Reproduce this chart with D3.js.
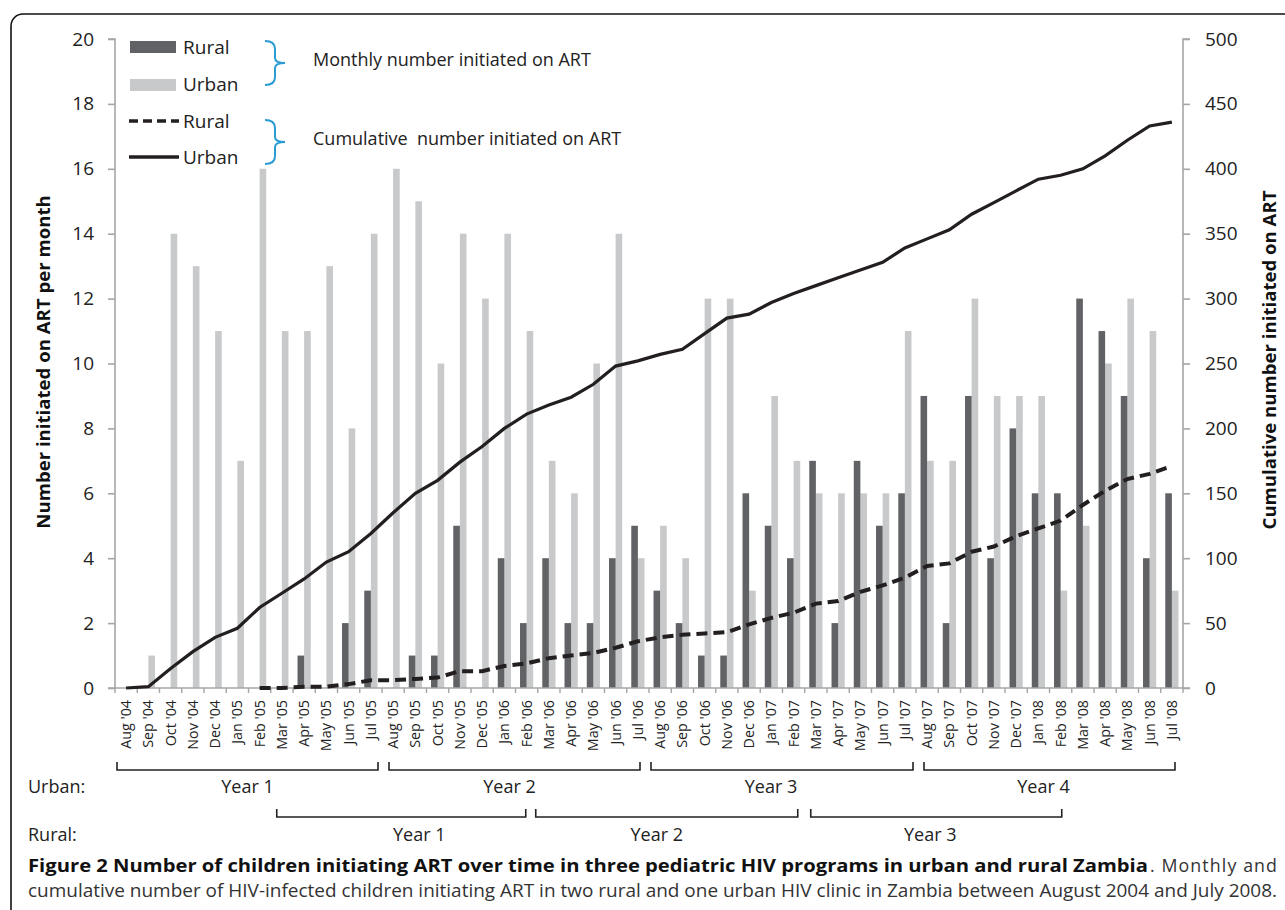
<!DOCTYPE html>
<html><head><meta charset="utf-8">
<script src="https://cdn.jsdelivr.net/npm/d3@7"></script>
<style>body{margin:0;background:#fff}svg{display:block}text{font-family:"Open Sans",sans-serif}</style>
</head><body><svg id="c" width="1285" height="910"></svg>
<script>
const months = ["Aug '04","Sep '04","Oct '04","Nov '04","Dec '04","Jan '05","Feb '05","Mar '05","Apr '05","May '05","Jun '05","Jul '05",
"Aug '05","Sep '05","Oct '05","Nov '05","Dec '05","Jan '06","Feb '06","Mar '06","Apr '06","May '06","Jun '06","Jul '06",
"Aug '06","Sep '06","Oct '06","Nov '06","Dec '06","Jan '07","Feb '07","Mar '07","Apr '07","May '07","Jun '07","Jul '07",
"Aug '07","Sep '07","Oct '07","Nov '07","Dec '07","Jan '08","Feb '08","Mar '08","Apr '08","May '08","Jun '08","Jul '08"];
const urbanMonthly = [0,1,14,13,11,7,16,11,11,13,8,14, 16,15,10,14,12,14,11,7,6,10,14,4, 5,4,12,12,3,9,7,6,6,6,6,11, 7,7,12,9,9,9,3,5,10,12,11,3];
const ruralMonthly = [null,null,null,null,null,null,0,0,1,0,2,3, 0,1,1,5,0,4,2,4,2,2,4,5, 3,2,1,1,6,5,4,7,2,7,5,6, 9,2,9,4,8,6,6,12,11,9,4,6];
const urbanCumulative = [0,1,15,28,39,46,62,73,84,97,105,119, 135,150,160,174,186,200,211,218,224,234,248,252, 257,261,273,285,288,297,304,310,316,322,328,339, 346,353,365,374,383,392,395,400,410,422,433,436];
const ruralCumulative = [null,null,null,null,null,null,0,0,1,1,3,6, 6,7,8,13,13,17,19,23,25,27,31,36, 39,41,42,43,49,54,58,65,67,74,79,85, 94,96,105,109,117,123,129,141,152,161,165,171];
const leftTicks = [0,2,4,6,8,10,12,14,16,18,20];
const rightTicks = [0,50,100,150,200,250,300,350,400,450,500];
const urbanYears = [{label:"Year 1",from:"Aug '04",to:"Jul '05"},{label:"Year 2",from:"Aug '05",to:"Jul '06"},{label:"Year 3",from:"Aug '06",to:"Jul '07"},{label:"Year 4",from:"Aug '07",to:"Jul '08"}];
const ruralYears = [{label:"Year 1",from:"Mar '05",to:"Feb '06"},{label:"Year 2",from:"Mar '06",to:"Feb '07"},{label:"Year 3",from:"Mar '07",to:"Feb '08"}];

const svg = d3.select("#c");
const L = 115, R = 1183, T = 39, B = 688;
const x = d3.scaleBand().domain(months).range([L, R]).padding(0);
const yL = d3.scaleLinear().domain([0,20]).range([B,T]);
const yR = d3.scaleLinear().domain([0,500]).range([B,T]);
const axisCol = "#a6a6a6", darkBar = "#616265", lightBar = "#c8c9cb", lineCol = "#231f20";

// border
svg.append("rect").attr("x",11).attr("y",14).attr("width",1300).attr("height",950).attr("rx",12)
  .attr("fill","none").attr("stroke","#111").attr("stroke-width",1.6);

// bars
const bw = 6.6;
const cx = m => x(m) + x.bandwidth()/2;
svg.append("g").selectAll("rect").data(months.map((m,i)=>({m,v:urbanMonthly[i]}))).join("rect")
  .attr("x",d=>cx(d.m)).attr("width",bw).attr("y",d=>yL(d.v)).attr("height",d=>B-yL(d.v)).attr("fill",lightBar);
svg.append("g").selectAll("rect").data(months.map((m,i)=>({m,v:ruralMonthly[i]})).filter(d=>d.v!==null)).join("rect")
  .attr("x",d=>cx(d.m)-bw).attr("width",bw).attr("y",d=>yL(d.v)).attr("height",d=>B-yL(d.v)).attr("fill",darkBar);

// axes
const gl = svg.append("g").attr("transform",`translate(${L},0)`).call(d3.axisLeft(yL).tickValues(leftTicks).tickSize(7).tickPadding(14));
const gr = svg.append("g").attr("transform",`translate(${R},0)`).call(d3.axisRight(yR).tickValues(rightTicks).tickSize(7).tickPadding(15));
[gl,gr].forEach(g=>{g.selectAll("path,line").attr("stroke",axisCol).attr("stroke-width",1.6);
  g.select(".domain").attr("d", g===gl ? `M-7,${T}H0V${B}H-7` : `M7,${T}H0V${B}H7`);
  g.selectAll("text").attr("font-size",19).attr("fill","#222").attr("font-family","Open Sans");});
const gx = svg.append("g").attr("transform",`translate(0,${B})`);
gx.append("line").attr("x1",L).attr("x2",R).attr("stroke",axisCol).attr("stroke-width",1.6);
gx.selectAll("line.t").data(d3.range(months.length+1)).join("line").attr("class","t")
  .attr("x1",i=>L+i*x.bandwidth()).attr("x2",i=>L+i*x.bandwidth()).attr("y1",0).attr("y2",5).attr("stroke",axisCol).attr("stroke-width",1.4);
gx.selectAll("text").data(months).join("text")
  .attr("transform",m=>`translate(${cx(m)+5},12) rotate(-90)`).attr("text-anchor","end")
  .attr("font-size",14.3).attr("fill","#222").text(m=>m);

// lines
const lineGen = arr => d3.line().defined(d=>d.v!==null).x(d=>cx(d.m)).y(d=>yR(d.v))(months.map((m,i)=>({m,v:arr[i]})));
svg.append("path").attr("d",lineGen(ruralCumulative)).attr("fill","none").attr("stroke",lineCol).attr("stroke-width",4).attr("stroke-dasharray","11,6");
svg.append("path").attr("d",lineGen(urbanCumulative)).attr("fill","none").attr("stroke",lineCol).attr("stroke-width",3.2);

// axis titles
svg.append("text").attr("transform","translate(50,362) rotate(-90)").attr("text-anchor","middle")
  .attr("font-size",18.6).attr("font-weight","bold").attr("fill","#111").text("Number initiated on ART per month");
svg.append("text").attr("transform","translate(1276,360) rotate(-90)").attr("text-anchor","middle")
  .attr("font-size",18.6).attr("font-weight","bold").attr("fill","#111").text("Cumulative number initiated on ART");

// legend
const lg = svg.append("g");
lg.append("rect").attr("x",130).attr("y",41).attr("width",46).attr("height",12).attr("fill",darkBar);
lg.append("rect").attr("x",130).attr("y",79).attr("width",46).attr("height",12).attr("fill",lightBar);
lg.append("line").attr("x1",129).attr("x2",179).attr("y1",121).attr("y2",121).attr("stroke",lineCol).attr("stroke-width",3.5).attr("stroke-dasharray","9,5");
lg.append("line").attr("x1",129).attr("x2",179).attr("y1",157).attr("y2",157).attr("stroke",lineCol).attr("stroke-width",3.5);
[["Rural",54],["Urban",91],["Rural",128],["Urban",164]].forEach(([t,y])=>
  lg.append("text").attr("x",183).attr("y",y).attr("font-size",19).attr("fill","#222").text(t));
const brace = (y0,y1) => { const m=(y0+y1)/2; return `M265,${y0} Q275,${y0} 275,${y0+8} L275,${m-5} Q275,${m} 285,${m} Q275,${m} 275,${m+5} L275,${y1-8} Q275,${y1} 265,${y1}`; };
lg.append("path").attr("d",brace(41,85)).attr("fill","none").attr("stroke","#2b9bd3").attr("stroke-width",2);
lg.append("path").attr("d",brace(120,164)).attr("fill","none").attr("stroke","#2b9bd3").attr("stroke-width",2);
lg.append("text").attr("x",313).attr("y",66).attr("font-size",18).attr("fill","#222").text("Monthly number initiated on ART");
lg.append("text").attr("x",313).attr("y",145).attr("font-size",18).attr("fill","#222").style("white-space","pre").text("Cumulative  number initiated on ART");

// year brackets (hand-drawn annotation: small per-bracket nudges)
const bracket = (arr, yLine, yLab, nudges) => {
  arr.forEach((d,i)=>{
    const [a,b,lx] = nudges[i];
    const x0 = x(d.from)+a, x1 = x(d.to)+x.bandwidth()+b;
    svg.append("path").attr("d",`M${x0},${yLine-8}V${yLine}H${x1}V${yLine-8}`).attr("fill","none").attr("stroke","#222").attr("stroke-width",1.6);
    svg.append("text").attr("x",(x0+x1)/2+lx).attr("y",yLab).attr("text-anchor","middle").attr("font-size",18).attr("fill","#222").text(d.label);
  });
};
bracket(urbanYears, 770, 793, [[2,-4,0],[7,-9,-5],[2,-3,-11],[8,-8,-6]]);
bracket(ruralYears, 817, 841, [[6,-12,18],[-2,-7,-10],[6,-10,-6]]);
svg.append("text").attr("x",28).attr("y",793).attr("font-size",18).attr("fill","#222").text("Urban:");
svg.append("text").attr("x",28).attr("y",841).attr("font-size",18).attr("fill","#222").text("Rural:");

// caption
svg.append("text").attr("x",28).attr("y",872).attr("font-size",17.8).attr("font-weight","bold").attr("fill","#111")
  .attr("textLength",1120).attr("lengthAdjust","spacingAndGlyphs")
  .text("Figure 2 Number of children initiating ART over time in three pediatric HIV programs in urban and rural Zambia");
svg.append("text").attr("x",1150).attr("y",872).attr("font-size",17.8).attr("fill","#333")
  .attr("textLength",127).attr("lengthAdjust","spacing").style("white-space","pre").text(". Monthly and");
svg.append("text").attr("x",28).attr("y",897).attr("font-size",17.8).attr("fill","#333")
  .attr("textLength",1249).attr("lengthAdjust","spacingAndGlyphs")
  .text("cumulative number of HIV-infected children initiating ART in two rural and one urban HIV clinic in Zambia between August 2004 and July 2008.");
</script></body></html>
